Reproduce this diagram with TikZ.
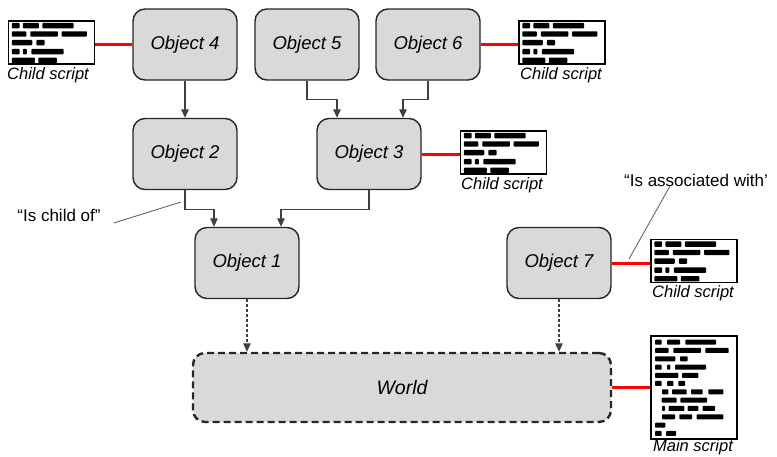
\documentclass[tikz,border=0pt]{standalone}
\usepackage{fontspec}
\setmainfont{Liberation Sans}
\usetikzlibrary{arrows.meta}
\definecolor{boxfill}{HTML}{D9D9D9}
\definecolor{edgecol}{HTML}{262626}
\definecolor{conncol}{HTML}{404040}
\tikzset{
  objbox/.style={draw=edgecol, line width=1.4pt, fill=boxfill, rounded corners=12pt,
    minimum width=104pt, minimum height=71pt,
    font=\fontsize{18.5}{22}\selectfont\itshape},
  worldbox/.style={objbox, dashed, dash pattern=on 7pt off 4pt, line width=2.4pt,
    minimum width=418pt, minimum height=69pt, font=\fontsize{19.5}{23}\selectfont\itshape},
  scriptbox/.style={draw=black, line width=1.3pt, fill=white, inner sep=0pt,
    minimum width=86pt, minimum height=43pt},
  mainbox/.style={scriptbox, minimum height=103pt},
  lbl/.style={font=\fontsize{16.5}{20}\selectfont\itshape, inner sep=0pt},
  quote/.style={font=\fontsize{17}{20}\selectfont, inner sep=0pt},
  conn/.style={draw=conncol, line width=1.1pt, -{Triangle[length=8.5pt,width=7.5pt]}},
  dconn/.style={conn, dashed, dash pattern=on 3pt off 2pt},
  redlink/.style={draw=red, line width=3pt},
  leader/.style={draw=gray!80!black, line width=0.9pt},
  childbars/.pic={
    \foreach \yy/\xa/\xb in {3/4/11.7, 3/15/31, 3/34.4/65.7,
      11.3/4/18.4, 11.3/22.4/50, 11.3/53.7/79,
      20/4/24.4, 20/28.4/36.7,
      29/4/11.7, 29/15/19, 29/23.4/55.7,
      37.7/4/27, 37.7/30.4/49}
      \fill[rounded corners=0.8pt] (\xa,\yy-0.4) rectangle (\xb,\yy+4.9);
  },
  mainbars/.pic={
    \foreach \yy/\xa/\xb in {4.7/4.7/11.3, 4.7/16.7/29.7, 4.7/35/65.7,
      13/4.7/18.3, 13/23/50.7, 13/55/78.3,
      21.3/4.7/25, 21.3/29.7/37.3,
      29.7/4.7/11.3, 29.7/16.7/20, 29.7/24.7/55.7,
      38/4.7/28, 38/31.7/48,
      46/4.7/11.3, 46/16.7/23, 46/28/34.7,
      54.3/11.7/18, 54.3/21.7/36.3, 54.3/40.7/52.3, 54.3/58/73,
      62.7/11.3/26.3, 62.7/30/56.7,
      71/11.7/14.7, 71/18.3/34, 71/37.3/48, 71/52.3/64.7,
      79.3/11.7/24.7, 79.3/29/41.7, 79.3/46.3/73,
      87.7/4.7/15,
      96/4.7/11.3, 96/15.7/25.7}
      \fill[rounded corners=0.8pt] (\xa,\yy-0.4) rectangle (\xb,\yy+4.6);
  }
}
\begin{document}
\begin{tikzpicture}[x=1pt,y=-1pt]
\useasboundingbox (0,0) rectangle (777,456);

% objects
\node[objbox] (o4) at (185,44.5) {Object 4};
\node[objbox] (o5) at (307,44.5) {Object 5};
\node[objbox] (o6) at (428,44.5) {Object 6};
\node[objbox] (o2) at (185,154) {Object 2};
\node[objbox] (o3) at (369,154) {Object 3};
\node[objbox] (o1) at (247,263) {Object 1};
\node[objbox] (o7) at (559,263) {Object 7};
\node[worldbox] (w) at (402,387.5) {World};

% scripts
\node[scriptbox] (cs1) at (51.5,42.5) {};
\pic at (cs1.north west) {childbars};
\node[scriptbox] (cs2) at (562,42.5) {};
\pic at (cs2.north west) {childbars};
\node[scriptbox] (cs3) at (503.5,152.5) {};
\pic at (cs3.north west) {childbars};
\node[scriptbox] (cs4) at (694,261) {};
\pic at (cs4.north west) {childbars};
\node[mainbox] (ms) at (694,387.5) {};
\pic at (ms.north west) {mainbars};

\node[lbl] (l1) at (48,75) {Child script};
\node[lbl] (l2) at (561,75) {Child script};
\node[lbl] (l3) at (502,185) {Child script};
\node[lbl] (l4) at (693,293) {Child script};
\node[lbl] (l5) at (693,447) {Main script};

% red associations
\draw[redlink] (o4.west) -- (o4.west -| cs1.east);
\draw[redlink] (o6.east) -- (o6.east -| cs2.west);
\draw[redlink] (o3.east) -- (o3.east -| cs3.west);
\draw[redlink] (o7.east) -- (o7.east -| cs4.west);
\draw[redlink] (w.east) -- (w.east -| ms.west);

% hierarchy connectors
\draw[conn] (o4.south) -- (o2.north);
\draw[conn] (o5.south) -- ++(0,19) -| ([xshift=-32pt]o3.north);
\draw[conn] (o6.south) -- ++(0,19) -| ([xshift=34pt]o3.north);
\draw[conn] (o2.south) -- ++(0,19) -| ([xshift=-33pt]o1.north);
\draw[conn] (o3.south) -- ++(0,19) -| ([xshift=34pt]o1.north);
\draw[dconn] (o1.south) -- (o1.south |- w.north);
\draw[dconn] (o7.south) -- (o7.south |- w.north);

% annotations
\node[quote] (qc) at (59,215) {“Is child of”};
\coordinate (qcend) at (181,202);
\draw[leader] ([shift={(13pt,-8pt)}]qc.east) -- (qcend);
\node[quote] (qa) at (696,180) {“Is associated with’};
\coordinate (qaend) at (629,259);
\draw[leader] (670,186) -- (qaend);
\end{tikzpicture}
\end{document}
